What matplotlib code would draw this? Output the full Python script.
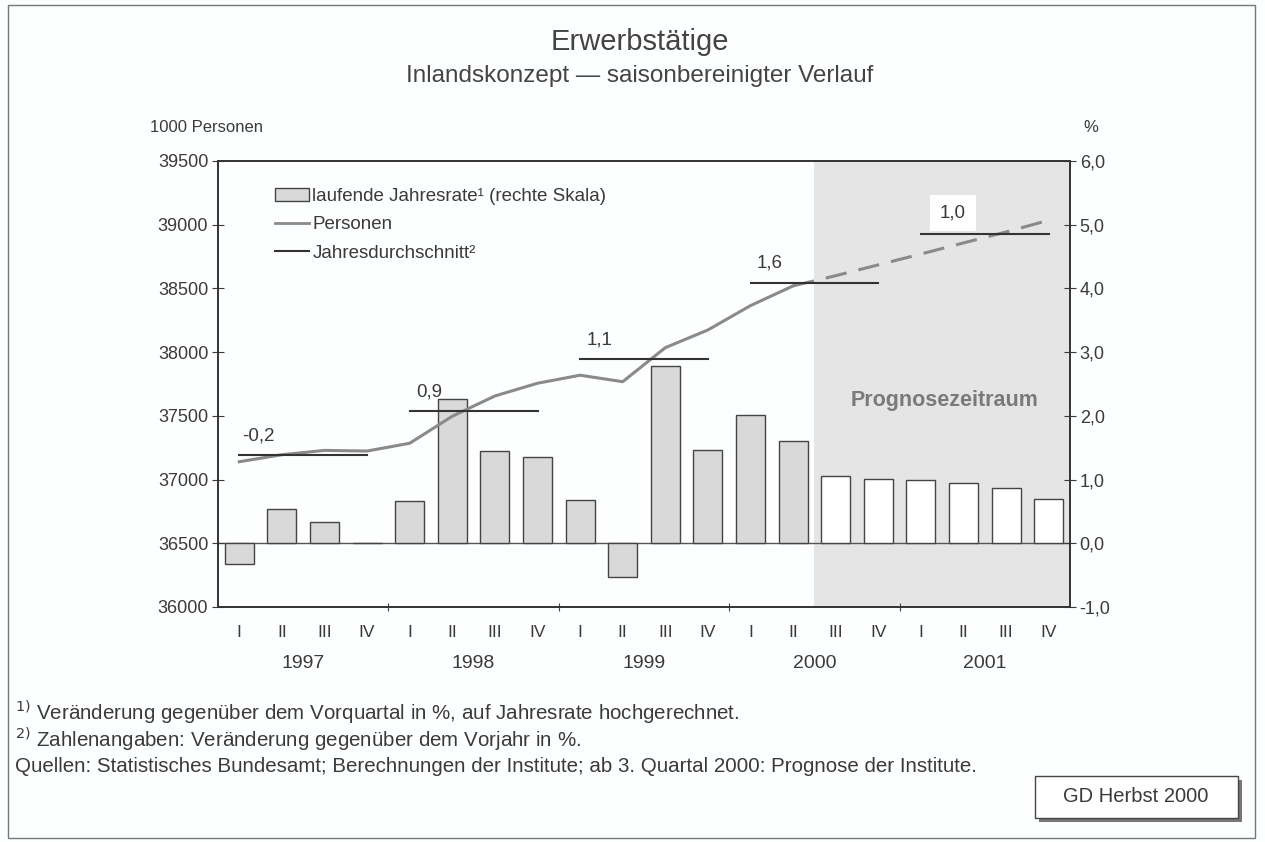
import matplotlib.pyplot as plt
from matplotlib.patches import Patch, Rectangle
from matplotlib.lines import Line2D

plt.rcParams['font.family'] = ['Liberation Sans', 'DejaVu Sans']

# Daten
quartale = ['I', 'II', 'III', 'IV'] * 5
jahre = ['1997', '1998', '1999', '2000', '2001']
jahresrate = [-0.33, 0.54, 0.33, 0.0, 0.66, 2.26, 1.45, 1.35, 0.68, -0.53,
              2.78, 1.46, 2.02, 1.61, 1.05, 1.01, 0.99, 0.95, 0.87, 0.70]
personen = [37140, 37195, 37229, 37224, 37285, 37497, 37656, 37756, 37819, 37768,
            38035, 38174, 38365, 38520, 38600, 38685, 38770, 38857, 38943, 39035]
jahresdurchschnitt = [37190, 37540, 37945, 38546, 38925]
jahres_labels = ['-0,2', '0,9', '1,1', '1,6', '1,0']
prognose_ab = 14  # ab 3. Quartal 2000

grau_text = '#3a3a3a'
x = list(range(len(quartale)))

fig = plt.figure(figsize=(12.65, 8.42), dpi=100)
fig.patch.set_facecolor('#fdfefe')
ax = fig.add_axes([218 / 1265, 1 - 607 / 842, 852 / 1265, 446 / 842])
ax.set_facecolor('#fdfefe')

# Prognosezeitraum
ax.axvspan(prognose_ab - 0.5, 19.5, color='#e5e5e5', zorder=0, lw=0)

# Balken (rechte Skala)
farben = ['#d9d9d9' if i < prognose_ab else 'white' for i in x]
ax.bar(x, jahresrate, width=0.68, color=farben, edgecolor='#444444', linewidth=1.0, zorder=2)
ax.axhline(0, color='#555555', lw=1.0, zorder=1)
ax.set_ylim(-1, 6)
ax.set_xlim(-0.5, 19.5)

# Linien (linke Skala)
ax2 = ax.twinx()
ax.yaxis.tick_right()
ax.yaxis.set_label_position('right')
ax2.yaxis.tick_left()
ax.set_yticks(range(-1, 7))
ax.set_yticklabels([f'{v},0' if v >= 0 else f'-{abs(v)},0' for v in range(-1, 7)])
ax.tick_params(axis='y', direction='inout', length=8, labelsize=13, colors=grau_text, pad=3)
ax2.set_ylim(36000, 39500)
ax2.set_yticks(range(36000, 40000, 500))
ax2.tick_params(axis='y', direction='inout', length=8, labelsize=13, colors=grau_text, pad=3)
ax2.plot(x[:prognose_ab], personen[:prognose_ab], color='#8a8a8a', lw=2.2, zorder=3)
ax2.plot(x[prognose_ab - 1:], personen[prognose_ab - 1:], color='#8a8a8a', lw=2.2,
         dashes=(7, 4), zorder=3)

for j, (wert, lab) in enumerate(zip(jahresdurchschnitt, jahres_labels)):
    ax2.plot([4 * j, 4 * j + 3], [wert, wert], color='#333333', lw=1.5, zorder=4)
    if j == 4:
        ax2.text(4 * j + 0.75, wert + 165, lab, ha='center', va='center', fontsize=13.5,
                 color=grau_text, zorder=5,
                 bbox=dict(facecolor='white', edgecolor='none', pad=7))
    else:
        ax2.text(4 * j + 0.45, wert + 150, lab, ha='center', va='center', fontsize=13.5,
                 color=grau_text, zorder=5)

ax2.text(16.55, 37620, 'Prognosezeitraum', ha='center', va='center', fontsize=15.5,
         fontweight='bold', color='#7a7a7a', zorder=5)

# x-Achse
ax.set_xticks([3.5, 7.5, 11.5, 15.5])
ax.set_xticklabels([])
ax.tick_params(axis='x', direction='inout', length=6, colors='#444444')
for i, q in enumerate(quartale):
    ax.text(i, -1.4, q, ha='center', va='center', fontsize=12.5, color=grau_text)
for j, jahr in enumerate(jahre):
    ax.text(4 * j + 1.5, -1.88, jahr, ha='center', va='center', fontsize=14, color=grau_text)

for a in (ax, ax2):
    for s in a.spines.values():
        s.set_color('#333333')
        s.set_linewidth(1.2)

# Legende
handles = [Patch(facecolor='#d9d9d9', edgecolor='#444444'),
           Line2D([], [], color='#8a8a8a', lw=2),
           Line2D([], [], color='#333333', lw=1.5)]
labels = ['laufende Jahresrate¹ (rechte Skala)', 'Personen', 'Jahresdurchschnitt²']
leg = ax2.legend(handles, labels, loc='upper left', bbox_to_anchor=(0.058, 0.957),
                 frameon=False, fontsize=13.5, handlelength=1.8, handletextpad=0.2,
                 labelspacing=0.6, borderaxespad=0)
for t in leg.get_texts():
    t.set_color(grau_text)

# Titel und Achsenbeschriftungen
fig.text(640 / 1265, 1 - 42 / 842, 'Erwerbstätige', ha='center', va='center',
         fontsize=21, color='#444444')
fig.text(640 / 1265, 1 - 76 / 842, 'Inlandskonzept — saisonbereinigter Verlauf',
         ha='center', va='center', fontsize=17.5, color='#444444')
fig.text(150 / 1265, 1 - 128 / 842, '1000 Personen', ha='left', va='center',
         fontsize=12, color=grau_text)
fig.text(1083 / 1265, 1 - 128 / 842, '%', ha='left', va='center',
         fontsize=12, color=grau_text)

# Fußnoten
fig.text(15 / 1265, 1 - 712 / 842, r'$^{1)}$ Veränderung gegenüber dem Vorquartal in %, auf Jahresrate hochgerechnet.',
         ha='left', va='center', fontsize=14.8, color=grau_text)
fig.text(15 / 1265, 1 - 739 / 842, r'$^{2)}$ Zahlenangaben: Veränderung gegenüber dem Vorjahr in %.',
         ha='left', va='center', fontsize=14.8, color=grau_text)
fig.text(15 / 1265, 1 - 767 / 842,
         'Quellen: Statistisches Bundesamt; Berechnungen der Institute; ab 3. Quartal 2000: Prognose der Institute.',
         ha='left', va='center', fontsize=14.8, color=grau_text)

# Kasten GD Herbst 2000
fig.patches.append(Rectangle((1039 / 1265, 1 - 822 / 842), 203 / 1265, 42 / 842,
                             transform=fig.transFigure, facecolor='#777777', edgecolor='none'))
fig.patches.append(Rectangle((1035 / 1265, 1 - 818 / 842), 203 / 1265, 42 / 842,
                             transform=fig.transFigure, facecolor='white', edgecolor='#444444', lw=1))
fig.text(1136 / 1265, 1 - 797 / 842, 'GD Herbst 2000', ha='center', va='center',
         fontsize=14.5, color=grau_text)

# Rahmen
fig.patches.append(Rectangle((8 / 1265, 4 / 842), 1247 / 1265, 833 / 842,
                             transform=fig.transFigure, facecolor='none', edgecolor='#777777', lw=1))

fig.savefig('out.png', dpi=100)
